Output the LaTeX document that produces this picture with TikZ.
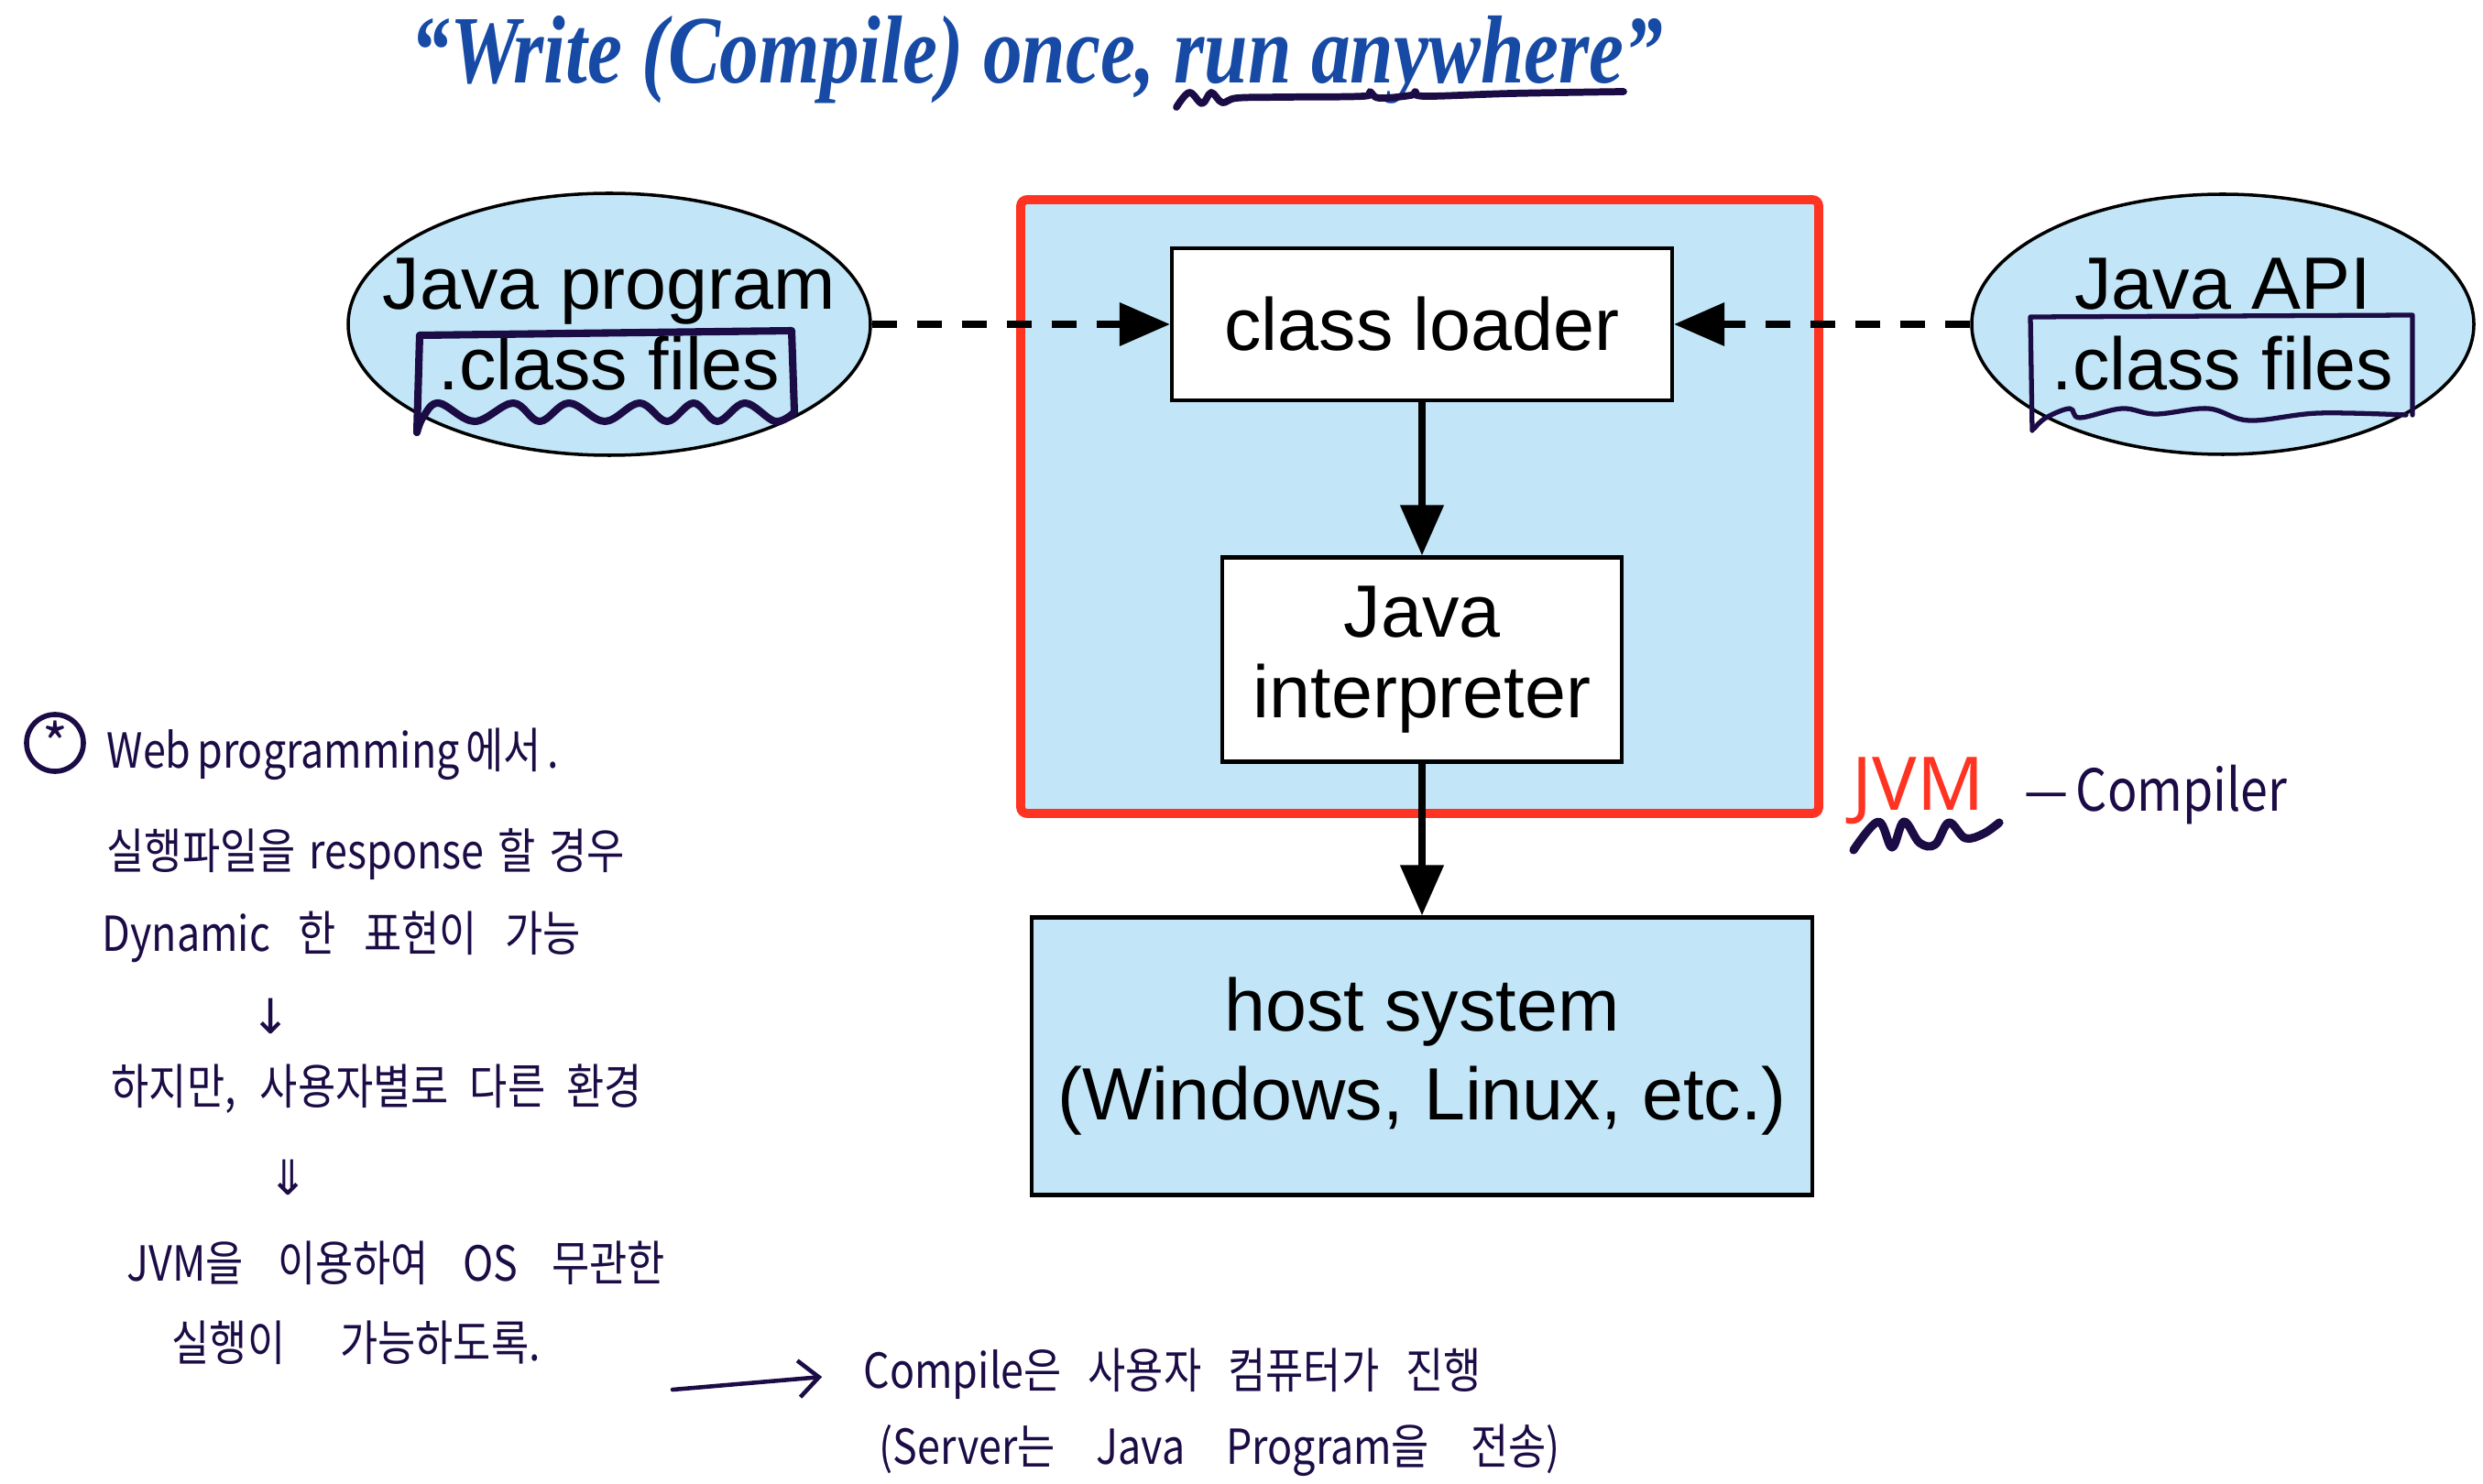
\documentclass[tikz,border=0pt]{standalone}
\usepackage{amsmath}
\usepackage{fontspec}
\usepackage{tikz}
\usetikzlibrary{arrows.meta,shapes.geometric}
\newfontfamily\helv{Liberation Sans}
\newfontfamily\titlefont{Liberation Serif}
\newfontfamily\hand{Noto Sans CJK KR}
\newfontfamily\arrowfont{DejaVu Sans}
\newfontfamily\jvmfont{Noto Sans}
\definecolor{skyfill}{RGB}{194,230,247}
\definecolor{jvmred}{RGB}{255,51,34}
\definecolor{ink}{RGB}{28,12,70}
\definecolor{titleblue}{RGB}{22,74,165}
\newcommand{\handline}[2]{\scalebox{0.85}[1]{\makebox[\dimexpr #1*100/85\relax][s]{#2}}}
\tikzstyle{box}=[draw, line width=1.2pt, fill=white, align=center, inner sep=2pt, font=\helv\fontsize{23}{25}\selectfont]
\tikzstyle{blob}=[ellipse, draw, line width=1pt, fill=skyfill]
\tikzstyle{lbl}=[align=center, font=\helv\fontsize{23}{25}\selectfont]
\tikzstyle{arr}=[-{Triangle[length=0.55cm,width=0.46cm]}, line width=2.2pt]
\tikzstyle{darr}=[arr, line width=2pt, dash pattern=on 0.27cm off 0.22cm]
\tikzstyle{hand}=[draw=ink, line width=2pt, line cap=round, line join=round]
\tikzstyle{note}=[anchor=base west, inner sep=0pt, text=ink, font=\hand\fontsize{15}{17}\selectfont]
\tikzstyle{sym}=[inner sep=0pt, text=ink, font=\arrowfont\fontsize{15}{15}\selectfont]

\begin{document}
\begin{tikzpicture}
            \useasboundingbox (0,0) rectangle (27.1,-16.2);
            \node[anchor=base, text=titleblue, font=\titlefont\bfseries\itshape\fontsize{30}{34}\selectfont] (title) at (11.32,-0.91) {\scalebox{0.81}[1]{“Write (Compile) once, run anywhere”}};
            \node[draw=jvmred, line width=2.8pt, fill=skyfill, rounded corners=2pt, minimum width=8.71cm, minimum height=6.70cm] (jvm) at (15.495,-5.53) {};
            \node[box, minimum width=5.46cm, minimum height=1.66cm] (cl) at (15.52,-3.54) {class loader};
            \node[box, below of=cl, node distance=3.66cm, minimum width=4.36cm, minimum height=2.23cm] (ip) {Java\\interpreter};
            \node[box, fill=skyfill, below of=ip, node distance=4.33cm, minimum width=8.52cm, minimum height=3.03cm, font=\helv\fontsize{23}{27.5}\selectfont] (host) {host system\\(Windows, Linux, etc.)};
            \node[blob, left of=cl, node distance=8.87cm, minimum width=5.7cm, minimum height=2.86cm, label={[lbl]center:{Java program\\.class files}}] (prog) {};
            \node[blob, right of=cl, node distance=8.74cm, minimum width=5.48cm, minimum height=2.84cm, label={[lbl]center:{Java API\\.class files}}] (api) {};
            \path[darr] (prog) edge (cl);
            \path[darr] (api) edge (cl);
            \path[arr] (cl) edge (ip);
            \path[arr] (ip) edge (host);
            \draw[hand, line width=2.2pt] plot[smooth, tension=0.6] coordinates {(12.84,-1.17) (12.98,-1.01) (13.12,-1.13) (13.22,-1.01) (13.34,-1.12) (13.50,-1.07) (14.0,-1.06) (14.88,-1.05) (14.95,-1.00) (15.05,-1.07) (15.40,-1.04) (15.45,-1.00) (15.55,-1.05) (16.5,-1.02) (17.72,-1.00)};
            \draw[hand, line width=2.3pt] (4.55,-4.72) -- (4.58,-3.66) -- (8.64,-3.61) -- (8.67,-4.50);
            \draw[hand, line width=2.3pt] plot[smooth, tension=0.6] coordinates {(8.67,-4.50) (8.46,-4.60) (8.13,-4.40) (7.83,-4.60) (7.57,-4.40) (7.28,-4.60) (6.98,-4.40) (6.60,-4.60) (6.21,-4.40) (5.89,-4.60) (5.60,-4.40) (5.18,-4.60) (4.79,-4.40) (4.62,-4.55) (4.55,-4.72)};
            \draw[hand, line width=1.5pt] (22.18,-4.70) -- (22.16,-3.46) -- (26.33,-3.44) -- (26.33,-4.53);
            \draw[hand, line width=1.5pt] plot[smooth, tension=0.6] coordinates {(26.26,-4.53) (25.30,-4.51) (24.55,-4.59) (24.10,-4.46) (23.53,-4.52) (23.16,-4.46) (22.70,-4.56) (22.59,-4.46) (22.33,-4.56) (22.20,-4.68)};
            \node[note, text=jvmred, font=\jvmfont\fontsize{23}{23}\selectfont] (jvmlbl) at (20.21,-8.84) {JVM};
            \draw[hand, line width=2.6pt] plot[smooth, tension=0.6] coordinates {(20.23,-9.28) (20.50,-8.97) (20.65,-9.25) (20.78,-8.97) (20.95,-9.20) (21.12,-9.22) (21.27,-8.98) (21.45,-9.15) (21.65,-9.10) (21.82,-8.98)};
            \node[note, font=\hand\fontsize{18}{18}\selectfont] (cmpr) at (22.09,-8.85) {\handline{2.83cm}{— Compiler}};
            \node[circle, draw=ink, line width=1.6pt, minimum size=0.62cm, inner sep=0pt, text=ink, font=\hand\fontsize{17}{17}\selectfont] (star) at (0.60,-8.11) {\raisebox{-0.25em}{*}};
            \node[note] (web) at (1.16,-8.38) {\handline{4.90cm}{Web programming 에서 .}};
            \node[note] (resp) at (1.16,-9.48) {\handline{5.65cm}{실행파일을 response 할 경우}};
            \node[note] (dyn) at (1.11,-10.38) {\handline{5.22cm}{Dynamic 한 표현이 가능}};
            \node[sym] (dn1) at (2.96,-11.09) {↓};
            \node[note] (env) at (1.21,-12.05) {\handline{5.79cm}{하지만, 사용자별로 다른 환경}};
            \node[sym] (dn2) at (3.15,-12.85) {⇓};
            \node[note] (osfree) at (1.38,-13.98) {\handline{5.87cm}{JVM을 이용하여 OS 무관한}};
            \node[note] (run) at (1.87,-14.85) {\handline{4.02cm}{실행이 가능하도록.}};
            \node[note] (cmp) at (9.42,-15.15) {\handline{6.74cm}{Compile은 사용자 컴퓨터가 진행}};
            \node[note] (srv) at (9.59,-15.98) {\handline{7.43cm}{(Server는 Java Program을 전송)}};
            \coordinate (arrtail) at (7.34,-15.17);
            \draw[hand, line width=1.3pt, -{Straight Barb[length=2.2mm,width=4mm]}, shorten >=0.45cm] (arrtail) -- (cmp.west);
        \end{tikzpicture}
\end{document}
